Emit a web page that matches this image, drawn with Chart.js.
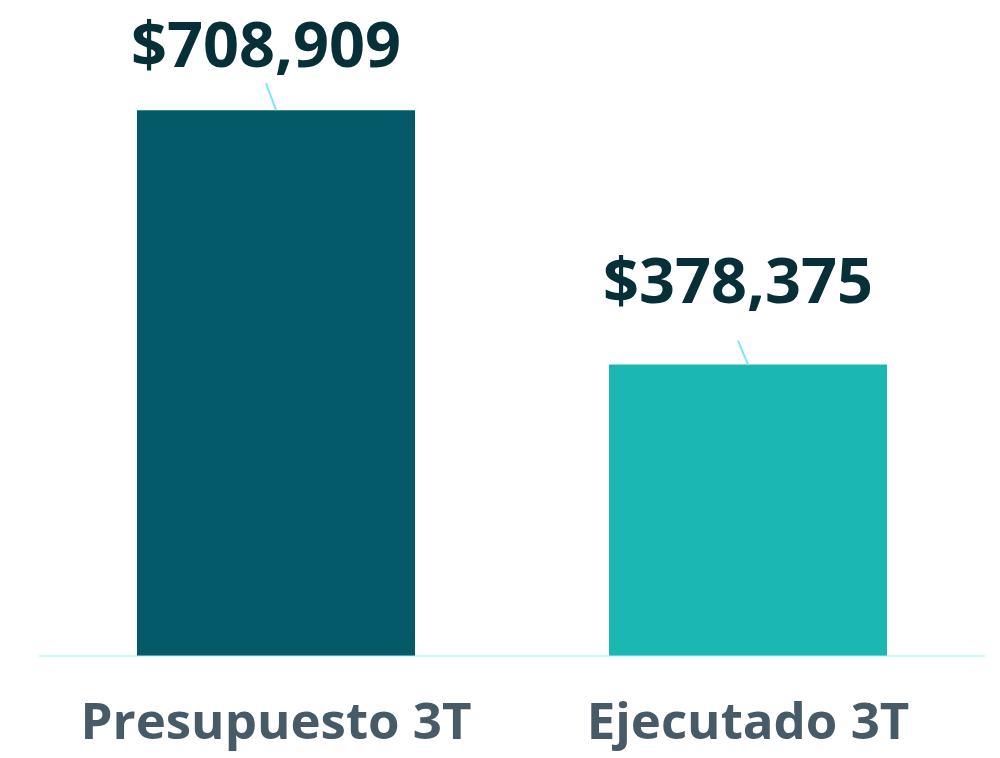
<!DOCTYPE html>
<html>
<head>
<meta charset="utf-8">
<script src="https://cdn.jsdelivr.net/npm/chart.js@4/dist/chart.umd.min.js"></script>
<style>
  html, body { margin: 0; padding: 0; background: #ffffff; }
  #wrap { width: 1000px; height: 758px; }
</style>
</head>
<body>
<div id="wrap"><canvas id="c" width="1000" height="758"></canvas></div>
<script>
const categories = ["Presupuesto 3T", "Ejecutado 3T"];
const values = [708909, 378375];
const valueLabels = ["$708,909", "$378,375"];

const barColors = ["#045a69", "#1bb7b3"];
const leaderRise = [27, 24];
const labelGap = [16, 38];

const labelPlugin = {
  id: "valueLabels",
  afterDatasetsDraw(chart) {
    const ctx = chart.ctx;
    const meta = chart.getDatasetMeta(0);
    ctx.save();
    meta.data.forEach((bar, i) => {
      const x = bar.x, y = bar.y;
      const tx = x - 10, ty = y - leaderRise[i];
      ctx.strokeStyle = "#7fe4f7";
      ctx.lineWidth = 2;
      ctx.beginPath();
      ctx.moveTo(x, y);
      ctx.lineTo(tx, ty);
      ctx.stroke();
      ctx.fillStyle = "#062f38";
      ctx.font = "bold 63px 'Open Sans'";
      ctx.textAlign = "center";
      ctx.textBaseline = "alphabetic";
      ctx.fillText(valueLabels[i], tx, ty - labelGap[i]);
    });
    ctx.restore();
  }
};

function draw() {
  new Chart(document.getElementById("c"), {
    type: "bar",
    data: {
      labels: categories,
      datasets: [{
        data: values,
        backgroundColor: barColors,
        borderWidth: 0,
        categoryPercentage: 1,
        barPercentage: 0.589
      }]
    },
    options: {
      responsive: false,
      animation: false,
      layout: { padding: { left: 40, right: 16, top: 10, bottom: -35 } },
      plugins: { legend: { display: false }, tooltip: { enabled: false } },
      scales: {
        x: {
          grid: { display: false, drawTicks: false },
          border: { display: true, color: "#cdf4f9", width: 2 },
          ticks: {
            color: "#465a67",
            padding: 38,
            font: { family: "'Open Sans'", size: 51, weight: "bold", lineHeight: 1.2 }
          }
        },
        y: {
          display: false,
          min: 0,
          max: 839000
        }
      }
    },
    plugins: [labelPlugin]
  });
}

Promise.all([
  document.fonts.load("bold 63px 'Open Sans'"),
  document.fonts.load("bold 51px 'Open Sans'")
]).then(draw, draw);
</script>
</body>
</html>
